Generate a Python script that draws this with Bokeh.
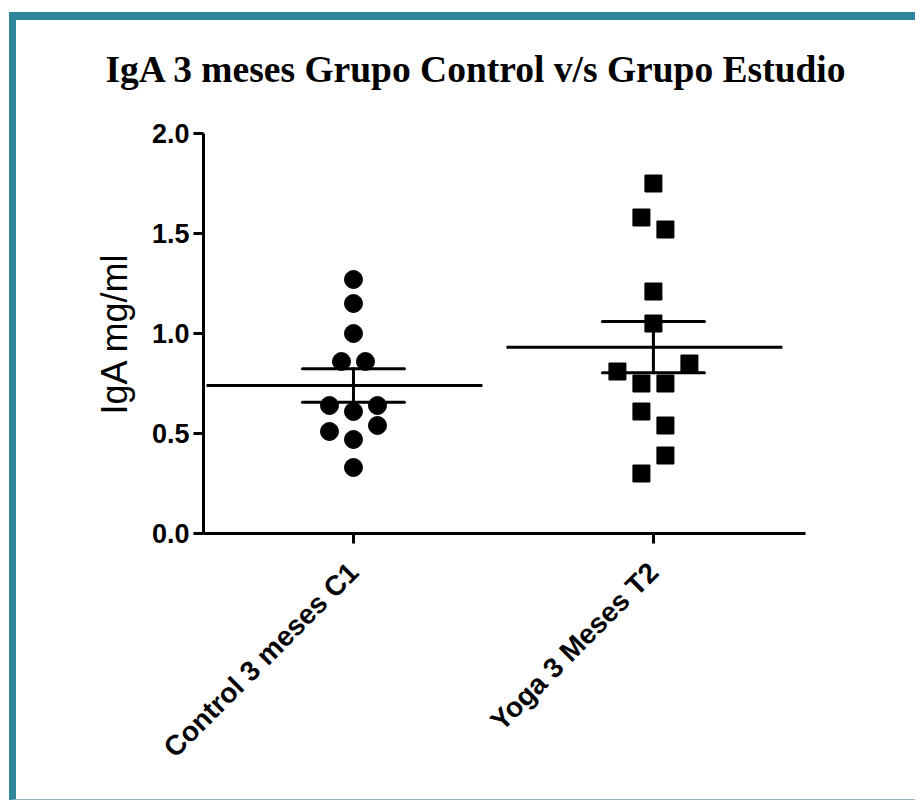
import numpy as np
from bokeh.plotting import figure
from bokeh.models import Range1d, FixedTicker, PrintfTickFormatter, Title
from bokeh.embed import file_html
from bokeh.resources import INLINE

# ---- data ----
categories = ["Control 3 meses C1", "Yoga 3 Meses T2"]
control_vals = [1.27, 1.15, 1.00, 0.86, 0.86, 0.64, 0.61, 0.64, 0.54, 0.51, 0.47, 0.33]
yoga_vals = [1.75, 1.58, 1.52, 1.21, 1.05, 0.85, 0.81, 0.75, 0.75, 0.61, 0.54, 0.39, 0.30]
y_ticks = [0.0, 0.5, 1.0, 1.5, 2.0]
title_text = "IgA 3 meses Grupo Control v/s Grupo Estudio"
y_label = "IgA mg/ml"

# ---- layout: horizontal scatter slots (GraphPad-style spreading), in slot units ----
control_slots = [0, 0, 0, -0.5, 0.5, -1, 0, 1, 1, -1, 0, 0]
yoga_slots = [0, -0.5, 0.5, 0, 0, 1.5, -1.5, -0.5, 0.5, -0.5, 0.5, 0.5, -0.5]
SLOT = 0.08  # data units per slot

TEAL = "#2F859A"

p = figure(width=906, height=788, output_backend="svg", toolbar_location=None,
           x_range=Range1d(0.5, 2.507), y_range=Range1d(0, 2.0),
           min_border_left=187, min_border_right=117, min_border_top=113, min_border_bottom=275)
p.styles = {"margin-left": "9px", "margin-top": "12px", "overflow": "hidden",
            "border-top": f"8px solid {TEAL}", "border-left": f"7px solid {TEAL}",
            "border-bottom": "1px solid #8FB8C2"}
p.outline_line_color = None
p.xgrid.visible = False
p.ygrid.visible = False
p.background_fill_color = "white"
p.border_fill_color = "white"

groups = [control_vals, yoga_vals]
slots = [control_slots, yoga_slots]
markers = ["circle", "square"]
sizes = [18, 17]
for i, (vals, sl, mk, sz) in enumerate(zip(groups, slots, markers, sizes)):
    xc = i + 1
    xs = [xc + s * SLOT for s in sl]
    p.scatter(xs, vals, marker=mk, size=sz, fill_color="black", line_color="black")
    arr = np.array(vals)
    mean = arr.mean()
    sem = arr.std(ddof=1) / np.sqrt(len(arr))
    p.segment(x0=[xc - 0.49], x1=[xc + 0.43], y0=[mean], y1=[mean], line_color="black", line_width=3)
    p.segment(x0=[xc - 0.17, xc - 0.17, xc], x1=[xc + 0.17, xc + 0.17, xc],
              y0=[mean + sem, mean - sem, mean - sem], y1=[mean + sem, mean - sem, mean + sem],
              line_color="black", line_width=3, line_cap="round")

# y axis
ya = p.yaxis[0]
ya.ticker = FixedTicker(ticks=y_ticks)
ya.formatter = PrintfTickFormatter(format="%.1f")
ya.minor_tick_line_color = None
ya.axis_line_width = 3
ya.axis_line_color = "black"
ya.major_tick_line_width = 3
ya.major_tick_line_color = "black"
ya.major_tick_out = 10
ya.major_tick_in = 0
ya.major_label_text_font = "Liberation Sans"
ya.major_label_text_font_style = "bold"
ya.major_label_text_font_size = "27px"
ya.major_label_text_color = "black"
ya.major_label_standoff = 4
ya.axis_label = y_label
ya.axis_label_text_font = "Liberation Sans"
ya.axis_label_text_font_style = "normal"
ya.axis_label_text_font_size = "36px"
ya.axis_label_text_color = "black"
ya.axis_label_standoff = 14

# x axis
xa = p.xaxis[0]
xa.ticker = FixedTicker(ticks=[1, 2])
xa.major_label_overrides = {1: categories[0], 2: categories[1]}
xa.minor_tick_line_color = None
xa.axis_line_width = 3
xa.axis_line_color = "black"
xa.major_tick_line_width = 3
xa.major_tick_line_color = "black"
xa.major_tick_out = 10
xa.major_tick_in = 0
xa.major_label_orientation = np.pi / 4
xa.major_label_text_font = "Liberation Sans"
xa.major_label_text_font_style = "bold"
xa.major_label_text_font_size = "28px"
xa.major_label_text_color = "black"
xa.major_label_standoff = 24

# spacer panel between the frame and the title (closest to the frame)
spacer = Title(text=" ", text_font_size="2px", text_color="white", standoff=40)
p.add_layout(spacer, "above")

t = Title(text=title_text, align="left", text_font="Liberation Serif",
          text_font_style="bold", text_font_size="37.5px", text_color="black",
          offset=-98, standoff=0)
p.add_layout(t, "above")

open("out.html", "w").write(file_html(p, INLINE))
